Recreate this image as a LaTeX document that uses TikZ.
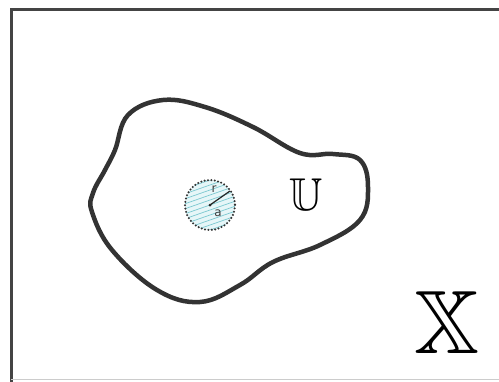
\documentclass[tikz,border=0pt]{standalone}
\usepackage{amssymb}
\usepackage{fontspec}
\usetikzlibrary{calc}
\newfontfamily\lblfont{DejaVu Sans}
\definecolor{framegray}{HTML}{444444}
\definecolor{blobgray}{HTML}{333333}
\definecolor{hatchcol}{HTML}{7CC8D0}
\definecolor{hatchbg}{HTML}{E6F6F8}
\tikzset{
  blob/.style={draw=blobgray, line width=4.5pt, line join=round},
  dotcircle/.style={draw=black!80, line width=2.3pt, line cap=round, dash pattern=on 0pt off 3.4pt},
  smalllbl/.style={inner sep=0pt, font=\lblfont\fontsize{12}{13}\selectfont, text=black!75},
}
\begin{document}
\begin{tikzpicture}[x=1pt,y=-1pt]
\useasboundingbox (0,0) rectangle (499,381);
% frame
\draw[framegray, line width=3pt] (11,382) -- (11,9.5) -- (499,9.5);
\draw[black!20, line width=1pt] (11,379) -- (499,379);
% blob
\draw[blob] plot[smooth cycle, tension=0.65] coordinates {
 (93,193) (105,170) (115,150) (128,115) (163,100) (205,107) (253,127)
 (300,153) (333,154) (360,160) (368,187) (360,220) (320,245) (273,262)
 (240,285) (200,302) (157,290) (112,250) (92,212)};
% hatched disc
\coordinate (c) at (210,205);
\begin{scope}
\clip (c) circle (25);
\fill[hatchbg] (c) circle (25);
\foreach \k in {-10,...,10}{
  \draw[hatchcol, line width=0.7pt] ($(c)+(-40,\k*5+14)$) -- ++(80,-28);
}
\end{scope}
\draw[dotcircle] (c) circle (25);
\coordinate (rend) at (230,191);
\draw[black!85, line width=1.2pt] (c) -- (rend);
\fill[black!85] (c) circle (1.5);
\node[smalllbl] (r) at (214,189) {r};
\node[smalllbl] (a) at (218,213) {a};
% labels
\node[inner sep=0pt, font=\fontsize{46}{50}\selectfont] (U) at (306,195) {$\mathbb{U}$};
\node[inner sep=0pt, font=\fontsize{90}{95}\selectfont] (X) at (447,322) {$\mathbb{X}$};
\end{tikzpicture}
\end{document}
